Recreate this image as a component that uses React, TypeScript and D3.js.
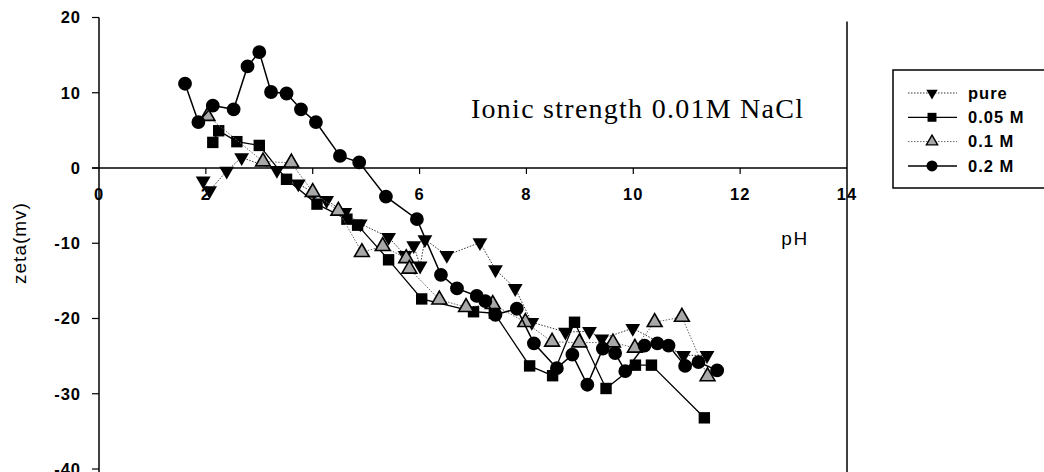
import React from 'react';
import {scaleLinear, line, symbol, symbolTriangle, symbolSquare, symbolCircle} from 'd3';

// pH / zeta potential (mV)
const purePH = [1.95, 2.07, 2.39, 2.67, 3.33, 3.73, 4.26, 4.6, 4.89, 5.42, 5.73, 5.89, 6.01, 6.10, 6.51, 7.13, 7.42, 7.79, 8.10, 8.73, 9.18, 9.41, 9.99, 10.94, 11.38];
const pureZeta = [-1.7, -3.0, -0.4, 1.4, -0.3, -2.1, -4.3, -5.9, -7.4, -9.2, -11.6, -10.3, -13.0, -9.5, -11.6, -9.9, -13.5, -16.0, -20.5, -21.8, -21.7, -22.7, -21.3, -24.9, -24.9];

const m005PH = [2.13, 2.24, 2.58, 3.0, 3.51, 4.08, 4.64, 4.84, 5.42, 6.04, 7.01, 7.40, 8.06, 8.49, 8.90, 9.49, 10.04, 10.34, 11.33];
const m005Zeta = [3.4, 4.95, 3.5, 3.0, -1.5, -4.8, -6.8, -7.6, -12.2, -17.4, -19.1, -19.3, -26.3, -27.6, -20.5, -29.3, -26.2, -26.2, -33.2];

const m01PH = [2.03, 3.07, 3.6, 4.0, 4.48, 4.92, 5.31, 5.75, 5.81, 6.37, 6.87, 7.37, 7.98, 8.48, 8.99, 9.62, 10.03, 10.40, 10.91, 11.39];
const m01Zeta = [6.9, 0.85, 0.7, -3.2, -5.7, -11.2, -10.4, -12.0, -13.4, -17.5, -18.5, -18.1, -20.5, -23.1, -23.2, -23.2, -23.9, -20.5, -19.8, -27.7];

const m02PH = [1.61, 1.86, 2.13, 2.52, 2.78, 3.0, 3.22, 3.51, 3.78, 4.06, 4.51, 4.87, 5.37, 5.95, 6.40, 6.70, 7.07, 7.23, 7.42, 7.82, 8.14, 8.57, 8.86, 9.14, 9.43, 9.66, 9.85, 10.21, 10.45, 10.66, 10.97, 11.22, 11.57];
const m02Zeta = [11.2, 6.1, 8.3, 7.8, 13.5, 15.4, 10.1, 9.9, 7.8, 6.1, 1.6, 0.75, -3.8, -6.8, -14.2, -16.0, -17.0, -17.7, -19.5, -18.7, -23.3, -26.6, -24.8, -28.8, -24.0, -24.6, -27.0, -23.6, -23.3, -23.6, -26.3, -25.8, -26.9];

const xTicks = [0, 2, 4, 6, 8, 10, 12, 14];
const yTicks = [20, 10, 0, -10, -20, -30, -40];
const seriesNames = ['pure', '0.05 M', '0.1 M', '0.2 M'];

const x = scaleLinear().domain([0, 14]).range([99, 847]);
const y = scaleLinear().domain([-40, 20]).range([469, 17.5]);

const font = 'Liberation Sans, Arial, sans-serif';

const series = [
    {name: seriesNames[0], ph: purePH, z: pureZeta, type: symbolTriangle, size: 95, lsize: 55, rot: 180, fill: '#000', dash: '1.5,1.5', stroke: '#333', sw: 1},
    {name: seriesNames[1], ph: m005PH, z: m005Zeta, type: symbolSquare, size: 130, lsize: 80, rot: 0, fill: '#000', dash: null, stroke: '#000', sw: 1.3},
    {name: seriesNames[2], ph: m01PH, z: m01Zeta, type: symbolTriangle, size: 95, lsize: 55, rot: 0, fill: '#a8a8a8', dash: '1.5,1.5', stroke: '#666', sw: 1},
    {name: seriesNames[3], ph: m02PH, z: m02Zeta, type: symbolCircle, size: 150, lsize: 95, rot: 0, fill: '#000', dash: null, stroke: '#000', sw: 1.5},
];

const App = () => {
    return (
        <svg width={1044} height={472} style={{position: 'absolute', left: 0, top: 0, background: '#fff'}}>
            {/* axes */}
            <line x1={x(0)} x2={x(0)} y1={y(20)} y2={472} stroke="#000" strokeWidth={1.5} />
            <line x1={x(0) - 7} x2={x(14)} y1={y(0)} y2={y(0)} stroke="#000" strokeWidth={1.5} />
            <line x1={x(14)} x2={x(14)} y1={y(20) + 4} y2={472} stroke="#000" strokeWidth={1.5} />

            {yTicks.map(t => (
                <g key={'y' + t}>
                    <line x1={x(0) - 7} x2={x(0)} y1={y(t)} y2={y(t)} stroke="#000" strokeWidth={1.2} />
                    <text x={81} y={y(t)} dy="0.35em" textAnchor="end" fontFamily={font} fontSize={16.5} fontWeight="bold" letterSpacing={1}>{t}</text>
                </g>
            ))}
            {xTicks.map(t => (
                <g key={'x' + t}>
                    {t > 0 && t < 14 && <line x1={x(t)} x2={x(t)} y1={y(0)} y2={y(0) + 6} stroke="#000" strokeWidth={1.2} />}
                    <text x={x(t)} y={y(0) + 26} dy="0.35em" textAnchor="middle" fontFamily={font} fontSize={16.5} fontWeight="bold" letterSpacing={1}>{t}</text>
                </g>
            ))}

            <text x={795} y={238} dy="0.35em" textAnchor="middle" fontFamily={font} fontSize={19} letterSpacing={1.5}>pH</text>
            <text transform="translate(19,243) rotate(-90)" dy="0.35em" textAnchor="middle" fontFamily={font} fontSize={19} letterSpacing={1}>zeta(mv)</text>

            <text x={471} y={118} fontFamily="Liberation Serif, Times New Roman, serif" fontSize={28} textLength={332} lengthAdjust="spacing">Ionic strength 0.01M NaCl</text>

            {/* series */}
            {series.map(s => {
                const pts = s.ph.map((p, i) => [x(p), y(s.z[i])] as [number, number]);
                const d = symbol(s.type, s.size)() || '';
                return (
                    <g key={s.name}>
                        <path d={line()(pts) || ''} fill="none" stroke={s.stroke} strokeWidth={s.sw} strokeDasharray={s.dash || undefined} />
                        {pts.map((p, i) => (
                            <path key={i} d={d} transform={`translate(${p[0]},${p[1]}) rotate(${s.rot})`}
                                  fill={s.fill} stroke="#000" strokeWidth={s.fill === '#000' ? 0 : 1.6} />
                        ))}
                    </g>
                );
            })}

            {/* legend */}
            <rect x={893} y={70} width={160} height={118} fill="#fff" stroke="#000" strokeWidth={1.5} />
            {series.map((s, i) => {
                const ly = 93 + i * 24.3;
                return (
                    <g key={'lg' + s.name}>
                        <line x1={908} x2={957} y1={ly} y2={ly} stroke={s.stroke} strokeWidth={s.sw} strokeDasharray={s.dash || undefined} />
                        <path d={symbol(s.type, s.lsize)() || ''} transform={`translate(932,${ly}) rotate(${s.rot})`} fill={s.fill} stroke="#000" strokeWidth={s.fill === '#000' ? 0 : 1.4} />
                        <text x={968} y={ly} dy="0.35em" fontFamily={font} fontSize={16.5} fontWeight="bold" letterSpacing={1}>{s.name}</text>
                    </g>
                );
            })}
        </svg>
    );
};

export default App;
